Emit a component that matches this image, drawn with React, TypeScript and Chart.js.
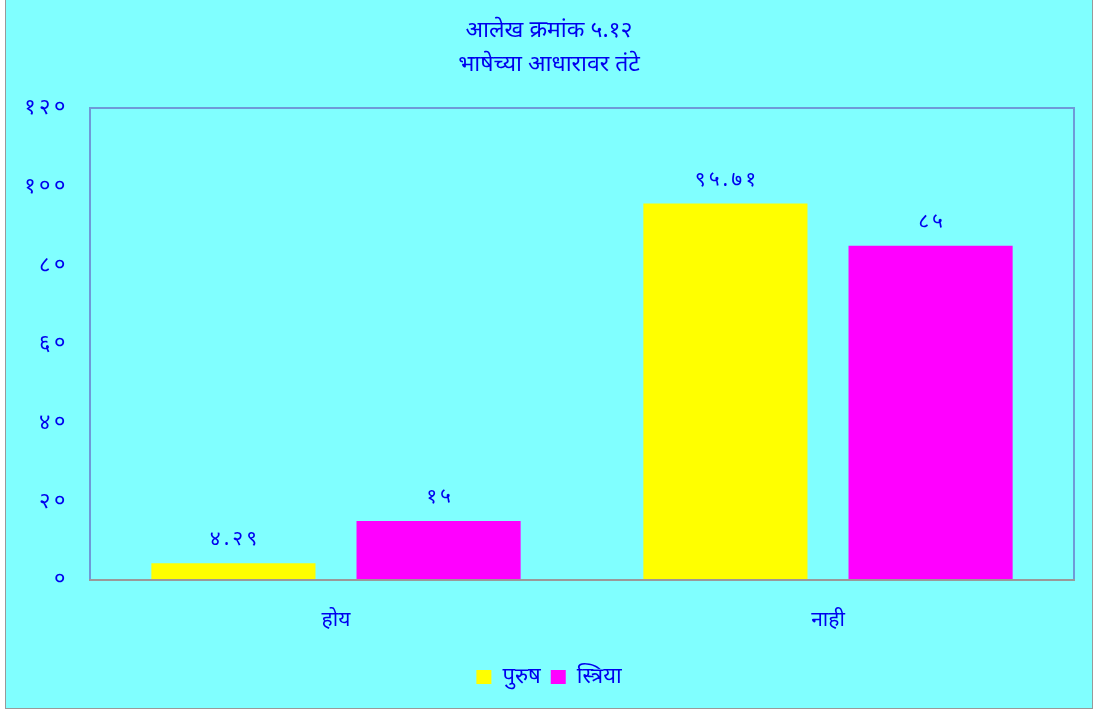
import React, { useEffect, useRef } from 'react';
import { Chart, registerables } from 'chart.js';

Chart.register(...registerables);

const titleLines = ['आलेख क्रमांक ५.१२', 'भाषेच्या आधारावर तंटे'];
const categories = ['होय', 'नाही'];
const seriesNames = ['पुरुष', 'स्त्रिया'];
const maleValues = [4.29, 95.71];
const femaleValues = [15, 85];
const yMin = 0;
const yMax = 120;
const yStep = 20;

const TEXT = '#0000EE';
const FONT = "'Noto Sans', 'Noto Sans Devanagari', 'Lohit Devanagari', sans-serif";

const toDev = (s: string) => s.replace(/[0-9]/g, (d) => String.fromCharCode(0x966 + Number(d)));

const plotFrame = {
  id: 'plotFrame',
  afterDatasetsDraw(chart: any) {
    const { ctx, chartArea: a } = chart;
    ctx.save();
    ctx.strokeStyle = '#6f9ad8';
    ctx.lineWidth = 2;
    ctx.beginPath();
    ctx.moveTo(a.left, a.bottom);
    ctx.lineTo(a.left, a.top);
    ctx.lineTo(a.right, a.top);
    ctx.lineTo(a.right, a.bottom);
    ctx.stroke();
    ctx.strokeStyle = '#9a9a9a';
    ctx.beginPath();
    ctx.moveTo(a.left - 1, a.bottom);
    ctx.lineTo(a.right + 1, a.bottom);
    ctx.stroke();
    ctx.restore();
  },
};

const numberText = {
  id: 'numberText',
  afterDatasetsDraw(chart: any) {
    const { ctx, chartArea: a } = chart;
    ctx.save();
    ctx.fillStyle = TEXT;
    ctx.font = `22px ${FONT}`;
    try { (ctx as any).letterSpacing = '3.5px'; } catch (e) { /* ignore */ }
    ctx.textBaseline = 'middle';
    const ys = chart.scales.y;
    ctx.textAlign = 'right';
    ys.ticks.forEach((t: any) => {
      ctx.fillText(toDev(String(t.value)), a.left - 21, ys.getPixelForValue(t.value));
    });
    ctx.font = `21px ${FONT}`;
    try { (ctx as any).letterSpacing = '3px'; } catch (e) { /* ignore */ }
    ctx.textAlign = 'center';
    chart.data.datasets.forEach((ds: any, i: number) => {
      const meta = chart.getDatasetMeta(i);
      meta.data.forEach((bar: any, j: number) => {
        ctx.fillText(toDev(String(ds.data[j])), bar.x + 1.5, bar.y - 24);
      });
    });
    ctx.restore();
  },
};

export default function App() {
  const ref = useRef<HTMLCanvasElement | null>(null);
  useEffect(() => {
    if (!ref.current) return;
    const chart = new Chart(ref.current, {
      type: 'bar',
      data: {
        labels: categories,
        datasets: [
          { label: seriesNames[0], data: maleValues, backgroundColor: '#FFFF00', borderWidth: 0 },
          { label: seriesNames[1], data: femaleValues, backgroundColor: '#FF00FF', borderWidth: 0 },
        ],
      },
      options: {
        animation: false,
        responsive: false,
        maintainAspectRatio: false,
        layout: { padding: { left: 0, right: 0, top: 0, bottom: 10 } },
        datasets: { bar: { categoryPercentage: 0.834, barPercentage: 0.8 } },
        plugins: {
          title: {
            display: true,
            text: titleLines,
            color: TEXT,
            font: { family: FONT, size: 23, weight: 'normal', lineHeight: 1.48 },
            padding: { top: 13, bottom: 27 },
          },
          legend: {
            display: true,
            position: 'bottom',
            labels: {
              color: TEXT,
              font: { family: FONT, size: 22 },
              boxWidth: 15,
              boxHeight: 14,
              padding: 10,
            },
          },
          tooltip: { enabled: false },
        },
        scales: {
          x: {
            grid: { display: false, drawTicks: false },
            border: { display: false },
            ticks: { color: TEXT, font: { family: FONT, size: 21 }, padding: 27 },
            afterFit: (s: any) => { s.height = 76; },
          },
          y: {
            min: yMin,
            max: yMax,
            grid: { display: false, drawTicks: false },
            border: { display: false },
            ticks: { stepSize: yStep, display: false },
            afterFit: (s: any) => { s.width = 84; },
          },
          yRightGap: {
            type: 'linear',
            position: 'right',
            display: true,
            grid: { display: false, drawTicks: false },
            border: { display: false },
            ticks: { display: false },
            afterFit: (s: any) => { s.width = 18; },
          },
        },
      },
      plugins: [plotFrame, numberText],
    });
    return () => chart.destroy();
  }, []);

  return (
    <div
      style={{
        position: 'absolute',
        left: 5,
        top: 0,
        width: 1086,
        height: 708,
        background: '#80FFFF',
        borderLeft: '1px solid #999',
        borderRight: '1px solid #999',
        borderBottom: '1px solid #999',
      }}
    >
      <canvas ref={ref} width={1086} height={708} style={{ display: 'block' }} />
    </div>
  );
}
